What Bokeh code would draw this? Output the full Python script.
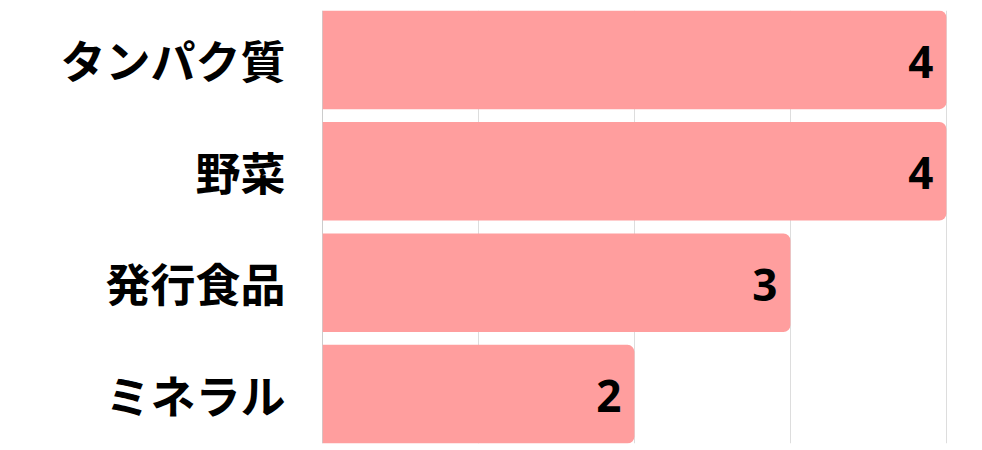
from bokeh.plotting import figure
from bokeh.models import ColumnDataSource, FactorRange, Range1d, Span, LabelSet
from bokeh.core.properties import value
from bokeh.embed import file_html
from bokeh.resources import INLINE

categories = ["タンパク質", "野菜", "発行食品", "ミネラル"]
values = [4, 4, 3, 2]
labels = [str(v) for v in values]

BAR_H = 0.885
factors = list(reversed(categories))

source = ColumnDataSource(dict(cat=categories, val=values, lab=labels))

p = figure(
    width=982, height=445,
    y_range=FactorRange(factors=factors, range_padding=-(0.5 - BAR_H / 2),
                        range_padding_units="absolute"),
    x_range=Range1d(0, 4.02),
    output_backend="svg", toolbar_location=None,
    min_border_left=322, min_border_right=33, min_border_top=10, min_border_bottom=2,
)
p.outline_line_color = None
p.background_fill_color = "white"
p.border_fill_color = "white"

p.xaxis.visible = False
p.ygrid.grid_line_color = None
p.xgrid.grid_line_color = "#dddddd"
p.xgrid.grid_line_width = 1

p.add_layout(Span(location=0, dimension="height", line_color="#9a9a9a",
                  line_width=1, level="underlay"))

p.hbar(y="cat", right="val", left=0, height=BAR_H, source=source,
       fill_color="#FF9E9E", line_color=None, border_radius=(0, 7, 7, 0))

p.add_layout(LabelSet(x="val", y="cat", text="lab", source=source,
                      x_offset=-13, y_offset=-2, text_align="right",
                      text_baseline="middle", text_font=value("Open Sans"),
                      text_font_style="bold", text_font_size=value("44px"),
                      text_color="black"))

yax = p.yaxis[0]
yax.axis_line_color = None
yax.major_tick_line_color = None
yax.minor_tick_line_color = None
yax.major_tick_out = 0
yax.major_tick_in = 0
yax.major_label_standoff = 37
yax.major_label_text_font = "Noto Sans CJK JP"
yax.major_label_text_font_style = "bold"
yax.major_label_text_font_size = "45px"
yax.major_label_text_color = "black"

open("out.html", "w").write(file_html(p, INLINE))
